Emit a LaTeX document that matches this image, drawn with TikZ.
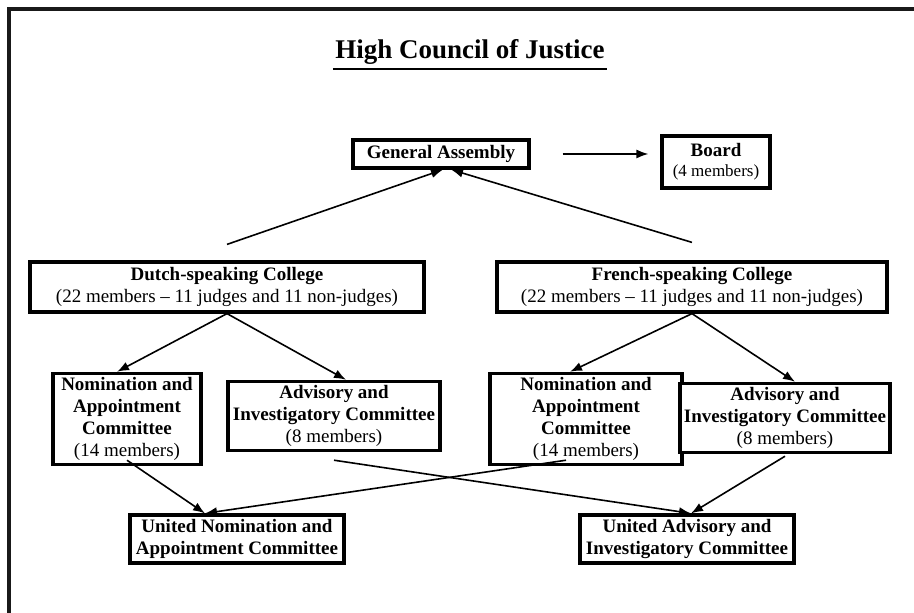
\documentclass[tikz,border=0pt]{standalone}
\usepackage{fontspec}
\setmainfont{Liberation Serif}
\usetikzlibrary{arrows.meta}

\tikzset{
  unitbox/.style={draw, line width=1.6pt, fill=white, align=center, inner sep=2pt,
    font=\fontsize{9.5}{11}\selectfont},
  link/.style={line width=0.8pt, -{Latex[length=6pt,width=4.5pt]}}
}

\begin{document}
\begin{tikzpicture}[x=0.5pt, y=-0.5pt]
                    \useasboundingbox (0,0) rectangle (914,613);
                    % frame
                    \draw[line width=1.6pt, black!90] (9,613) -- (9,9) -- (914,9);
                    \node[inner sep=1pt] (title) at (470,52) {\fontsize{13.5}{16}\selectfont\bfseries High Council of Justice};
                    \draw[line width=1.1pt] ([yshift=-1pt]title.south west) -- ([yshift=-1pt]title.south east);
                    % top level
                    \node[unitbox, minimum width=88pt, minimum height=14pt] (ga) at (441,154) {\textbf{General Assembly}};
                    \node[unitbox, minimum width=54pt, minimum height=26pt] (board) at (716,162) {\textbf{Board}\\[-1pt]{\fontsize{8.5}{10}\selectfont(4 members)}};
                    \draw[link] ([xshift=16pt]ga.east) -- ([xshift=-6pt]board.west |- ga.east);
                    % colleges
                    \node[unitbox, minimum width=197pt, minimum height=25pt] (dutch) at (227,287) {\textbf{Dutch-speaking College}\\(22 members -- 11 judges and 11 non-judges)};
                    \node[unitbox, minimum width=195pt, minimum height=25pt] (french) at (692,287) {\textbf{French-speaking College}\\(22 members -- 11 judges and 11 non-judges)};
                    \draw[link] ([yshift=8pt]dutch.north) -- ([xshift=1pt]ga.south);
                    \draw[link] ([yshift=9pt]french.north) -- ([xshift=5pt]ga.south);
                    % committees
                    \node[unitbox, minimum width=74pt, minimum height=43pt] (nac1) at (127,419) {\textbf{Nomination and}\\\textbf{Appointment}\\\textbf{Committee}\\(14 members)};
                    \node[unitbox, minimum width=106pt, minimum height=31pt] (aic1) at (334,416) {\textbf{Advisory and}\\\textbf{Investigatory Committee}\\(8 members)};
                    \node[unitbox, minimum width=96pt, minimum height=43pt] (nac2) at (586,419) {\textbf{Nomination and}\\\textbf{Appointment}\\\textbf{Committee}\\(14 members)};
                    \node[unitbox, minimum width=102pt, minimum height=30pt] (aic2) at (785,418) {\textbf{Advisory and}\\\textbf{Investigatory Committee}\\(8 members)};
                    \draw[link] (dutch.south) -- ([xshift=-5pt]nac1.north);
                    \draw[link] (dutch.south) -- ([xshift=6pt]aic1.north);
                    \draw[link] (french.south) -- ([xshift=-8pt]nac2.north);
                    \draw[link] (french.south) -- ([xshift=5pt]aic2.north);
                    % united committees
                    \node[unitbox, minimum width=107pt, minimum height=24pt] (unac) at (237,539) {\textbf{United Nomination and}\\\textbf{Appointment Committee}};
                    \node[unitbox, minimum width=107pt, minimum height=24pt] (uaic) at (687,539) {\textbf{United Advisory and}\\\textbf{Investigatory Committee}};
                    \draw[link] ([yshift=3pt]nac1.south) -- ([xshift=-16pt]unac.north);
                    \draw[link] ([xshift=-10pt,yshift=3pt]nac2.south) -- ([xshift=-16pt]unac.north);
                    \draw[link] ([yshift=-4pt]aic1.south) -- ([xshift=2pt]uaic.north);
                    \draw[link] ([yshift=-1pt]aic2.south) -- ([xshift=2pt]uaic.north);
                \end{tikzpicture}
\end{document}
